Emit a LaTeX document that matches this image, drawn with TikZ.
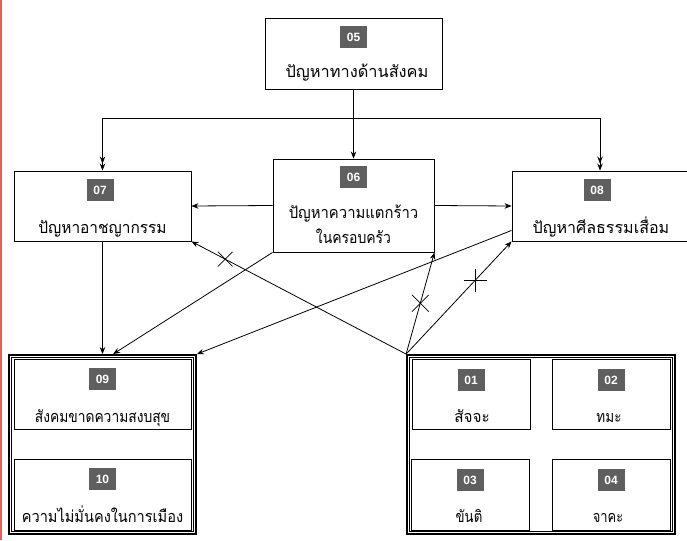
\documentclass[tikz,border=0pt]{standalone}
\usepackage{fontspec}
\setmainfont{Liberation Sans}
\newfontfamily\thaifont[Script=Thai]{Loma}
\usetikzlibrary{arrows.meta,shapes.misc}
\definecolor{badgegray}{HTML}{5F5F5F}
\definecolor{edgered}{HTML}{F05A5A}
\newcommand\hsc[2]{\scalebox{#1}[1.08]{#2}}
\begin{document}
\begin{tikzpicture}[x=1pt,y=-1pt,
  box/.style={draw, line width=0.9pt, inner sep=0},
  badge/.style={fill=badgegray, text=white, font=\bfseries\fontsize{12}{13}\selectfont, minimum width=27pt, minimum height=22pt, inner sep=0},
  lbl/.style={font=\thaifont\fontsize{15}{20}\selectfont, inner sep=0, anchor=base},
  arr/.style={line width=0.8pt, -{Stealth[length=7pt,width=5.5pt]}},
  darr/.style={line width=0.8pt, -{Stealth[length=7pt,width=5.5pt]Stealth[length=7pt,width=5.5pt]}},
  xmk/.style={draw, cross out, line width=0.7pt, inner sep=0, minimum size=#1},
  grp/.style={draw, line width=1.8pt, inner sep=0},
]
\useasboundingbox (0,0) rectangle (687,540);
\fill[white] (0,0) rectangle (687,540);
\fill[edgered] (0,0) rectangle (2,540);

% box 05
\node[box, minimum width=177pt, minimum height=71pt] (n05) at (353.5,53.5) {};
\node[badge] (b05) at (353.5,37) {05};
\node[lbl] (t05) at (357,78) {\hsc{1.09}{ปัญหาทางด้านสังคม}};

% box 07
\node[box, minimum width=177pt, minimum height=70pt] (n07) at (102.5,206) {};
\node[badge] (b07) at (100,190) {07};
\node[lbl] (t07) at (102.5,233) {\hsc{1.03}{ปัญหาอาชญากรรม}};

% box 06
\node[box, minimum width=161pt, minimum height=93pt] (n06) at (353.5,205.5) {};
\node[badge] (b06) at (353.5,177) {06};
\node[lbl] (t06a) at (353.5,218) {\hsc{0.99}{ปัญหาความแตกร้าว}};
\node[lbl] (t06b) at (353.5,243) {\hsc{0.93}{ในครอบครัว}};

% box 08 (cut by the right edge)
\node[box, minimum width=176pt, minimum height=70pt] (n08) at (600,206) {};
\node[badge] (b08) at (597,190) {08};
\node[lbl] (t08) at (601,233) {\hsc{1.07}{ปัญหาศีลธรรมเสื่อม}};

% left group
\node[grp, minimum width=187pt, minimum height=179pt] (lg) at (102.5,444.5) {};
\draw[line width=0.7pt] (11.8,357.8) rectangle (193.2,531.2);
\node[box, minimum width=177pt, minimum height=70pt] (n09) at (102.5,394) {};
\node[badge] (b09) at (102.5,379) {09};
\node[lbl] (t09) at (102.5,422) {\hsc{0.92}{สังคมขาดความสงบสุข}};
\node[box, minimum width=177pt, minimum height=71pt] (n10) at (102.5,494.5) {};
\node[badge] (b10) at (102.5,479) {10};
\node[lbl] (t10) at (102.5,522) {\hsc{0.97}{ความไม่มั่นคงในการเมือง}};

% right group
\node[grp, minimum width=268pt, minimum height=179pt] (rg) at (541,444.5) {};
\draw[line width=0.7pt] (409.8,357.8) rectangle (672.2,531.2);
\node[box, minimum width=118pt, minimum height=70pt] (n01) at (471,394) {};
\node[badge] (b01) at (471,380) {01};
\node[lbl] (t01) at (472,422) {\hsc{1.02}{สัจจะ}};
\node[box, minimum width=118pt, minimum height=70pt] (n02) at (611,394) {};
\node[badge] (b02) at (611,380) {02};
\node[lbl] (t02) at (609,422) {\hsc{0.9}{ทมะ}};
\node[box, minimum width=118pt, minimum height=71pt] (n03) at (470,494.5) {};
\node[badge] (b03) at (470,480) {03};
\node[lbl] (t03) at (469,522) {\hsc{0.88}{ขันติ}};
\node[box, minimum width=118pt, minimum height=71pt] (n04) at (611,494.5) {};
\node[badge] (b04) at (611,480) {04};
\node[lbl] (t04) at (608,522) {\hsc{0.86}{จาคะ}};

% connectors from 05
\draw[darr] (n05.south) -- ++(0,29) -| (n07.north);
\draw[darr] (n05.south) -- ++(0,29) -| (n08.north);
\draw[arr] (n05.south) -- (n06.north);

% 06 to 07 and 08
\draw[arr] (n06.west) -- (n07.east);
\draw[arr] (n06.east) -- (n08.west);

% to left group
\draw[arr] (n07.south) -- (n07.south |- lg.north);
\draw[arr] (n06.south west) -- ([xshift=105pt]lg.north west);
\draw[arr] ([yshift=11pt]n08.south west) -- (lg.north east);

% from right group
\draw[arr] (rg.north west) -- node[xmk=14pt, pos=0.843] (x1) {} (n07.south east);
\draw[arr] (rg.north west) -- node[xmk=16pt, pos=0.5] (x2) {} (n06.south east);
\draw[arr] (rg.north west) -- node[xmk=15.5pt, rotate=45, pos=0.654] (x3) {} (n08.south west);
\end{tikzpicture}
\end{document}
